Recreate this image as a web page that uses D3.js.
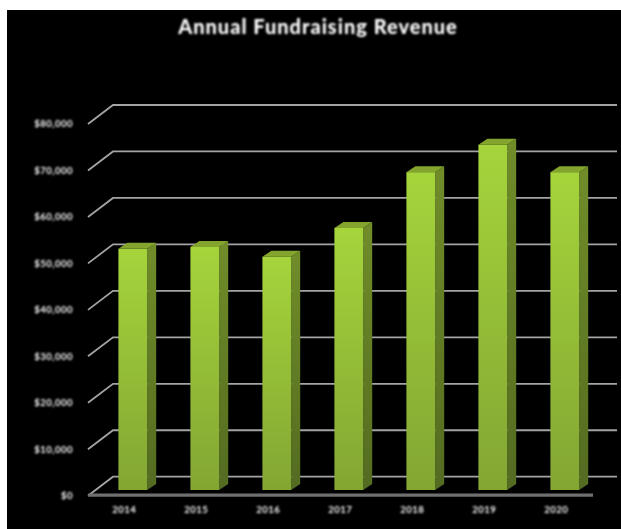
<!DOCTYPE html>
<html><head><meta charset="utf-8">
<script src="https://cdn.jsdelivr.net/npm/d3@7/dist/d3.min.js"></script>
<style>html,body{margin:0;padding:0;background:#fff}svg{display:block}</style>
</head><body><div id="chart"></div>
<script>
const chartTitle = "Annual Fundraising Revenue";
const years = ["2014","2015","2016","2017","2018","2019","2020"];
const revenue = [51900,52300,50200,56400,68400,74300,68400];
const yTicks = [0,10000,20000,30000,40000,50000,60000,70000,80000];
const yTickLabels = ["$0","$10,000","$20,000","$30,000","$40,000","$50,000","$60,000","$70,000","$80,000"];

const W=621,H=529;
const svg=d3.select("#chart").append("svg").attr("width",W).attr("height",H);
const defs=svg.append("defs");
function blur(id,sd){
  defs.append("filter").attr("id",id).attr("filterUnits","userSpaceOnUse")
    .attr("x",0).attr("y",0).attr("width",W).attr("height",H)
    .append("feGaussianBlur").attr("stdDeviation",sd);
}
blur("soft",0.75);
blur("softText",0.8);
function grad(id,c0,c1){
  const g=defs.append("linearGradient").attr("id",id).attr("x1",0).attr("y1",0).attr("x2",0).attr("y2",1);
  g.append("stop").attr("offset",0).attr("stop-color",c0);
  g.append("stop").attr("offset",1).attr("stop-color",c1);
}
grad("front","#a5d43b","#83a633");
grad("side","#708d2a","#536b20");

svg.append("rect").attr("x",7).attr("y",10).attr("width",W-7).attr("height",H-10).attr("fill","#000");

const depthX=25, depthY=19;
const yScale=d3.scaleLinear().domain([0,80000]).range([495.7,124]);
const xScale=d3.scaleBand().domain(years).range([96.8,600.8]).paddingInner(0.6).paddingOuter(0.3);
const barDX=9, barDY=6, barShift=-5.7;

const g=svg.append("g").attr("filter","url(#soft)");
g.selectAll("path.grid").data(yTicks).join("path").attr("class","grid")
  .attr("fill","none").attr("stroke","#a4a4a4").attr("stroke-width",1.8)
  .attr("d",d=>`M88,${yScale(d)}L${88+depthX},${yScale(d)-depthY}H617`);
g.append("line").attr("x1",88).attr("x2",593).attr("y1",yScale(0)-0.5).attr("y2",yScale(0)-0.5)
  .attr("stroke","#707070").attr("stroke-width",3.2);

const barData=years.map((yr,i)=>({yr,v:revenue[i]}));
const bars=g.selectAll("g.bar").data(barData).join("g").attr("class","bar");
const fx=d=>xScale(d.yr), bw=xScale.bandwidth();
const barTop=d=>yScale(d.v)+barShift, barBase=yScale(0)+barShift;
bars.append("path").attr("fill","url(#side)")
  .attr("d",d=>`M${fx(d)+bw},${barTop(d)}l${barDX},${-barDY}V${barBase-barDY}l${-barDX},${barDY}Z`);
bars.append("path").attr("fill","#83a52d")
  .attr("d",d=>`M${fx(d)},${barTop(d)}l${barDX},${-barDY}h${bw}l${-barDX},${barDY}Z`);
bars.append("rect").attr("fill","url(#front)")
  .attr("x",fx).attr("y",barTop).attr("width",bw).attr("height",d=>barBase-barTop(d));

const t=svg.append("g").attr("filter","url(#softText)").attr("fill","#ffffff");
t.append("text").text(chartTitle).attr("x",318).attr("y",34).attr("text-anchor","middle")
  .attr("font-family","Lato").attr("font-weight",900).attr("font-size",20).attr("letter-spacing",1).attr("fill","#ffffff");
t.selectAll("text.yl").data(yTicks).join("text").attr("class","yl")
  .text((d,i)=>yTickLabels[i]).attr("x",73).attr("y",d=>yScale(d)+3.3)
  .attr("text-anchor","end").attr("font-family","Lato").attr("font-weight",700).attr("font-size",9.5).attr("letter-spacing",0.5);
t.selectAll("text.xl").data(years).join("text").attr("class","xl")
  .text(d=>d).attr("x",d=>xScale(d)+bw/2-8.5).attr("y",513)
  .attr("text-anchor","middle").attr("font-family","Lato").attr("font-weight",700).attr("font-size",9.5).attr("letter-spacing",0.5);
</script></body></html>
